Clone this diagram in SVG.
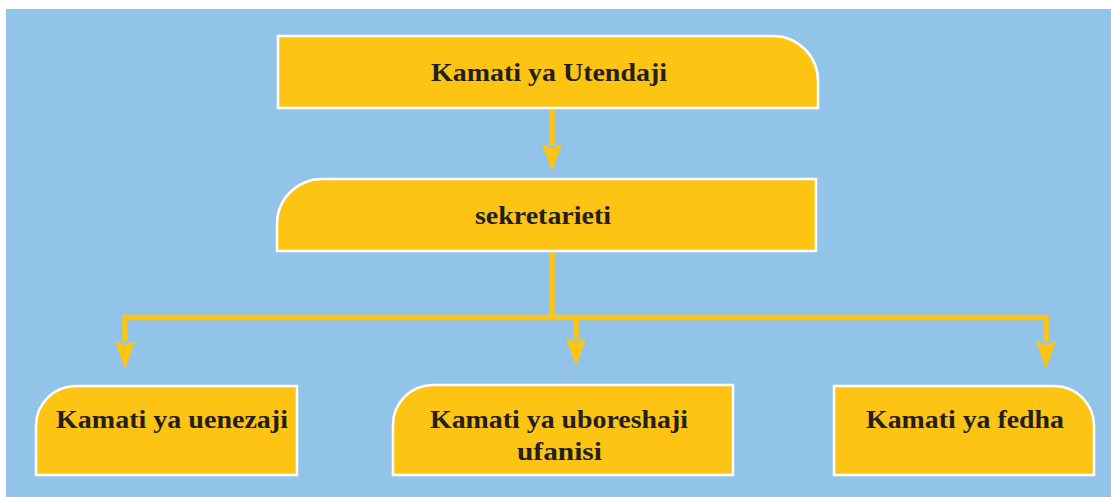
<svg xmlns="http://www.w3.org/2000/svg" width="1111" height="497" viewBox="0 0 1111 497">
<style>
.box{fill:#FDC414;stroke:#FFFFFF;stroke-width:2.5}
.lbl{font-family:"Liberation Serif","DejaVu Serif",serif;font-weight:bold;font-size:25px;fill:#231F20;text-anchor:middle}
.con{fill:none;stroke:#FDC414;stroke-width:5.5}
.head{fill:#FDC414}
</style>
<rect x="6" y="9" width="1105" height="488" fill="#92C3E8"/>
<g id="connectors">
<path class="con" d="M552 108 V146"/>
<polygon class="head" points="542,144 552,148 562,144 552,171"/>
<path class="con" d="M552 251 V317.5 M125 342 V317.5 H1046 V342 M576 317.5 V340"/>
<polygon class="head" points="115,341 125,345 135,341 125,369"/>
<polygon class="head" points="566,338 576,342 586,338 576,366"/>
<polygon class="head" points="1036,341 1046,345 1056,341 1046,369"/>
</g>
<g id="n1">
<path class="box" d="M278 36 H773 A45 45 0 0 1 818 81 V108 H278 Z"/>
<text class="lbl" x="549" y="81" textLength="236" lengthAdjust="spacingAndGlyphs">Kamati ya Utendaji</text>
</g>
<g id="n2">
<path class="box" d="M322 179 H816 V251 H277 V224 A45 45 0 0 1 322 179 Z"/>
<text class="lbl" x="543" y="224" textLength="136" lengthAdjust="spacingAndGlyphs">sekretarieti</text>
</g>
<g id="n3">
<path class="box" d="M76 386 H297 V475 H36 V426 A40 40 0 0 1 76 386 Z"/>
<text class="lbl" x="172" y="428" textLength="232" lengthAdjust="spacingAndGlyphs">Kamati ya uenezaji</text>
</g>
<g id="n4">
<path class="box" d="M433 385 H733 V475 H393 V425 A40 40 0 0 1 433 385 Z"/>
<text class="lbl" x="559" y="428" textLength="258" lengthAdjust="spacingAndGlyphs">Kamati ya uboreshaji</text>
<text class="lbl" x="559.5" y="460" textLength="85" lengthAdjust="spacingAndGlyphs">ufanisi</text>
</g>
<g id="n5">
<path class="box" d="M834 386 H1054 A40 40 0 0 1 1094 426 V475 H834 Z"/>
<text class="lbl" x="965" y="428" textLength="198" lengthAdjust="spacingAndGlyphs">Kamati ya fedha</text>
</g>
</svg>
